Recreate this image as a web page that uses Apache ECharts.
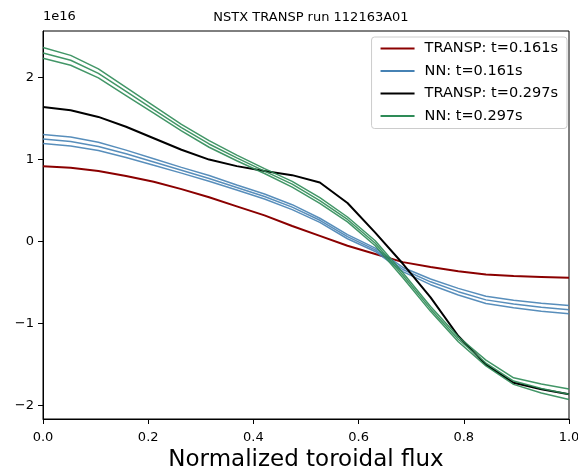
<!DOCTYPE html>
<html>
<head>
<meta charset="utf-8">
<script src="https://cdn.jsdelivr.net/npm/echarts@6/dist/echarts.min.js"></script>
<style>html,body{margin:0;padding:0;background:#fff;}#c{width:578px;height:471px;}</style>
</head>
<body>
<div id="c"></div>
<script>
// Normalized toroidal flux grid
const xGrid = [0, 0.0526, 0.1053, 0.1579, 0.2105, 0.2632, 0.3158, 0.3684, 0.4211, 0.4737, 0.5263, 0.5789, 0.6316, 0.6842, 0.7368, 0.7895, 0.8421, 0.8947, 0.9474, 1.0];
// values in units of 1e16
const transp161 = [0.92, 0.90, 0.86, 0.80, 0.73, 0.64, 0.54, 0.43, 0.32, 0.19, 0.07, -0.05, -0.15, -0.25, -0.31, -0.36, -0.40, -0.42, -0.43, -0.44];
const nn161Mid = [1.25, 1.22, 1.16, 1.07, 0.97, 0.87, 0.77, 0.66, 0.55, 0.42, 0.26, 0.06, -0.10, -0.34, -0.49, -0.61, -0.71, -0.76, -0.80, -0.83];
const nn161Up = [1.305, 1.275, 1.21, 1.115, 1.01, 0.905, 0.805, 0.69, 0.58, 0.45, 0.285, 0.085, -0.08, -0.315, -0.455, -0.57, -0.665, -0.715, -0.75, -0.78];
const nn161Lo = [1.195, 1.165, 1.11, 1.025, 0.93, 0.835, 0.735, 0.63, 0.52, 0.39, 0.235, 0.035, -0.12, -0.365, -0.525, -0.65, -0.755, -0.805, -0.85, -0.88];
const transp297 = [1.64, 1.60, 1.52, 1.40, 1.26, 1.12, 1.00, 0.92, 0.86, 0.81, 0.72, 0.47, 0.11, -0.27, -0.68, -1.15, -1.50, -1.72, -1.80, -1.86];
const nn297Mid = [2.30, 2.21, 2.05, 1.83, 1.61, 1.39, 1.19, 1.02, 0.86, 0.70, 0.50, 0.27, -0.02, -0.41, -0.82, -1.19, -1.48, -1.70, -1.79, -1.86];
const nn297Up = [2.365, 2.27, 2.105, 1.88, 1.655, 1.43, 1.23, 1.055, 0.89, 0.735, 0.535, 0.30, 0.01, -0.38, -0.79, -1.16, -1.445, -1.66, -1.735, -1.795];
const nn297Lo = [2.235, 2.15, 1.995, 1.78, 1.565, 1.35, 1.15, 0.985, 0.83, 0.665, 0.465, 0.24, -0.05, -0.44, -0.85, -1.22, -1.515, -1.74, -1.845, -1.925];

const yTicks = [-2, -1, 0, 1, 2];
const xTicks = [0, 0.2, 0.4, 0.6, 0.8, 1.0];
const names = ['TRANSP: t=0.161s', 'NN: t=0.161s', 'TRANSP: t=0.297s', 'NN: t=0.297s'];

const pairs = ys => xGrid.map((x, i) => [x, ys[i]]);
const FONT = 'DejaVu Sans';
const C_RED = '#8b0000', C_BLUE = '#4682b4', C_BLACK = '#000000', C_GREEN = '#2e8b57';

function line(name, ys, color, width, opacity) {
  return {
    type: 'line', name: name, data: pairs(ys), showSymbol: false, symbol: 'none',
    lineStyle: { color: color, width: width, opacity: opacity }, itemStyle: { color: color },
    silent: true, animation: false
  };
}

const chart = echarts.init(document.getElementById('c'), null, { renderer: 'canvas' });
chart.setOption({
  animation: false,
  backgroundColor: '#fff',
  title: {
    text: 'NSTX TRANSP run 112163A01', left: 306, top: 6, textAlign: 'center',
    textStyle: { fontFamily: FONT, fontSize: 13, fontWeight: 'normal', color: '#000' }
  },
  graphic: [{
    type: 'text', left: 43, top: 10,
    style: { text: '1e16', fontFamily: FONT, fontSize: 13, fill: '#000' }
  }],
  legend: {
    data: names, orient: 'vertical', right: 11, top: 37,
    icon: 'rect', itemWidth: 34, itemHeight: 2, itemGap: 7.5,
    padding: [4, 9, 5, 9], borderColor: '#cccccc', borderWidth: 1, borderRadius: 3,
    backgroundColor: 'rgba(255,255,255,0.8)',
    textStyle: { fontFamily: FONT, fontSize: 14.5, color: '#000', padding: [0, 0, 0, 5] }
  },
  grid: { left: 43, right: 9, top: 31, bottom: 52, show: true, borderColor: '#000', borderWidth: 1, containLabel: false, outerBoundsMode: 'none' },
  xAxis: {
    type: 'value', min: 0, max: 1, interval: 0.2,
    name: 'Normalized toroidal flux', nameLocation: 'middle', nameGap: 29,
    nameTextStyle: { fontFamily: FONT, fontSize: 23, color: '#000' },
    axisLine: { onZero: false, lineStyle: { color: '#000', width: 1 } },
    axisTick: { length: 5, lineStyle: { color: '#000' }, customValues: xTicks },
    axisLabel: { fontFamily: FONT, fontSize: 13, color: '#000', margin: 12, customValues: xTicks, formatter: v => v.toFixed(1) },
    splitLine: { show: false }
  },
  yAxis: {
    type: 'value', min: -2.162, max: 2.567,
    axisLine: { show: true, onZero: false, lineStyle: { color: '#000', width: 1 } },
    axisTick: { show: true, length: 5, lineStyle: { color: '#000' }, customValues: yTicks },
    axisLabel: { fontFamily: FONT, fontSize: 13, color: '#000', margin: 9, customValues: yTicks, formatter: v => String(v).replace('-', '\u2212') },
    splitLine: { show: false }
  },
  series: [
    line(names[0], transp161, C_RED, 2, 1),
    line(names[1], nn161Mid, C_BLUE, 1.5, 0.9),
    line('nn161_upper', nn161Up, C_BLUE, 1.5, 0.9),
    line('nn161_lower', nn161Lo, C_BLUE, 1.5, 0.9),
    line(names[2], transp297, C_BLACK, 2, 1),
    line(names[3], nn297Mid, C_GREEN, 1.5, 0.9),
    line('nn297_upper', nn297Up, C_GREEN, 1.5, 0.9),
    line('nn297_lower', nn297Lo, C_GREEN, 1.5, 0.9)
  ]
});
</script>
</body>
</html>
